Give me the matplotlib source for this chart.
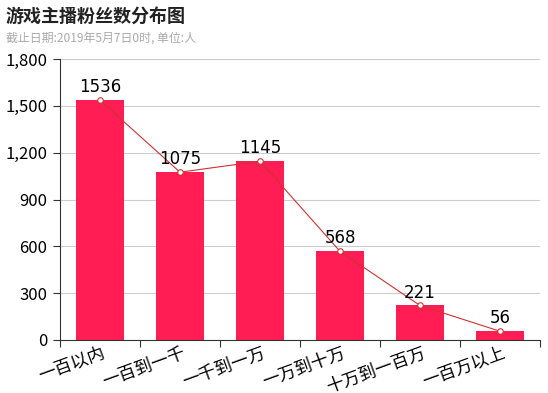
import matplotlib
matplotlib.use("Agg")
import matplotlib.pyplot as plt
from matplotlib.ticker import FuncFormatter

plt.rcParams['font.family'] = ['Noto Sans CJK SC', 'DejaVu Sans']

categories = ['一百以内', '一百到一千', '一千到一万', '一万到十万', '十万到一百万', '一百万以上']
values = [1536, 1075, 1145, 568, 221, 56]
yticks = [0, 300, 600, 900, 1200, 1500, 1800]

fig = plt.figure(figsize=(5.48, 3.93), dpi=100)
ax = fig.add_axes([60/548, 1-340/393, 480/548, 281/393])

x = list(range(len(categories)))
ax.bar(x, values, width=0.6, color='#ff1d54', zorder=2)
ax.plot(x, values, color='#cc3333', lw=0.8, marker='o', ms=4, mfc='white', mec='#cc3333', mew=0.8, zorder=3)
for xi, v in zip(x, values):
    ax.text(xi, v + 25, str(v), ha='center', va='bottom', fontsize=12, color='black', family='DejaVu Sans', zorder=4)

ax.set_xlim(-0.5, len(categories) - 0.5)
ax.set_ylim(0, 1800)
ax.set_yticks(yticks)
ax.yaxis.set_major_formatter(FuncFormatter(lambda v, p: f'{int(v):,}'))
ax.grid(axis='y', color='#cccccc', lw=0.8, zorder=0)
ax.set_axisbelow(True)
for s in ['top', 'right']:
    ax.spines[s].set_visible(False)
ax.spines['left'].set_color('#333333')
ax.spines['bottom'].set_color('#333333')
ax.tick_params(axis='y', length=5, color='#333333', labelsize=12, pad=4)
ax.set_xticks([i - 0.5 for i in range(len(categories) + 1)], minor=False)
ax.set_xticklabels([])
ax.tick_params(axis='x', length=5, color='#333333')
for xi, c in zip(x, categories):
    ax.text(xi + 0.02, -25, c, rotation=20, ha='right', va='top', fontsize=12.5, rotation_mode='anchor')

fig.text(6/548, 1-16/393, '游戏主播粉丝数分布图', fontsize=13, fontweight='bold', va='center', ha='left', color='#222222')
fig.text(6/548, 1-38/393, '截止日期:2019年5月7日0时, 单位:人', fontsize=8.6, va='center', ha='left', color='#aaaaaa')

fig.savefig('out.png', dpi=100)
